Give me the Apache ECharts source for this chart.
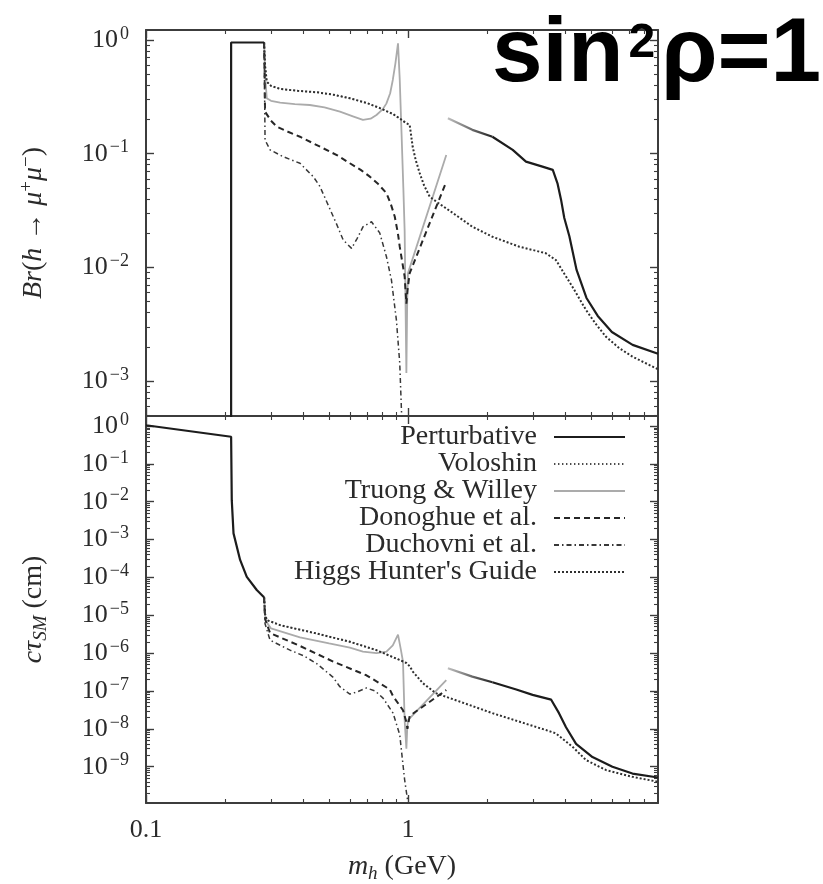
<!DOCTYPE html>
<html>
<head>
<meta charset="utf-8">
<script src="https://cdn.jsdelivr.net/npm/echarts@6/dist/echarts.min.js"></script>
<style>
  html, body { margin: 0; padding: 0; background: #fff; }
  #chart { width: 823px; height: 884px; }
</style>
</head>
<body>
<div id="chart"></div>
<script>
// ---- tick values ----------------------------------------------------------
const massTicks = [0.1, 1];
const brTicks = [1e-3, 1e-2, 1e-1, 1];
const ctauTicks = [1e-9, 1e-8, 1e-7, 1e-6, 1e-5, 1e-4, 1e-3, 1e-2, 1e-1, 1];

// ---- branching ratio Br(h -> mu+ mu-), [m_h (GeV), Br] -------------------
const pertBrLow = [[0.2113, 1e-4], [0.2113, 0.95], [0.2824, 0.95]];
const pertBrFade = [[1.42, 0.205], [1.76, 0.162], [2.1, 0.141]];
const pertBrHigh = [[2.1, 0.141], [2.51, 0.108], [2.82, 0.0851], [3.26, 0.0769], [3.57, 0.0721],
  [3.72, 0.0549], [3.84, 0.0392], [3.95, 0.0272], [4.13, 0.0188], [4.4, 0.0095], [4.8, 0.00538],
  [5.3, 0.00374], [6.0, 0.0027], [7.2, 0.00208], [9.0, 0.00174]];
const voloshinBr = [[0.2824, 0.95], [0.2847, 0.6], [0.289, 0.43], [0.30, 0.395], [0.325, 0.371],
  [0.38, 0.357], [0.448, 0.347], [0.52, 0.33], [0.60, 0.307], [0.70, 0.278], [0.78, 0.252],
  [0.88, 0.222], [0.95, 0.197], [0.986, 0.185]];
const truongBr = [[0.2824, 0.95], [0.2847, 0.5], [0.289, 0.307], [0.30, 0.292], [0.325, 0.281],
  [0.37, 0.273], [0.422, 0.268], [0.48, 0.255], [0.55, 0.234], [0.62, 0.212], [0.673, 0.198],
  [0.72, 0.203], [0.758, 0.219], [0.80, 0.245], [0.8275, 0.277], [0.855, 0.34], [0.875, 0.445],
  [0.895, 0.62], [0.916, 0.935], [0.93, 0.45], [0.945, 0.15], [0.96, 0.05], [0.971, 0.021],
  [0.986, 0.00118], [0.993, 0.005], [1.0, 0.0089], [1.40, 0.0975]];
const donoghueBr = [[0.2824, 0.95], [0.2847, 0.234], [0.30, 0.195], [0.3155, 0.173], [0.35, 0.155],
  [0.387, 0.141], [0.43, 0.125], [0.475, 0.1115], [0.54, 0.096], [0.60, 0.0824], [0.66, 0.072],
  [0.715, 0.0628], [0.77, 0.054], [0.8275, 0.0449], [0.86, 0.036], [0.89, 0.028], [0.915, 0.02],
  [0.93, 0.0152], [0.955, 0.0105], [0.971, 0.0083], [0.986, 0.0048], [0.995, 0.0062],
  [1.015, 0.0089], [1.40, 0.0567]];
const duchovniBr = [[0.2824, 0.95], [0.2847, 0.132], [0.2975, 0.108], [0.334, 0.0941], [0.387, 0.0824],
  [0.435, 0.0628], [0.46, 0.052], [0.489, 0.038], [0.534, 0.024], [0.566, 0.0174], [0.609, 0.0147],
  [0.64, 0.018], [0.674, 0.0228], [0.7255, 0.0252], [0.78, 0.0201], [0.8275, 0.0124],
  [0.8645, 0.00775], [0.903, 0.00345], [0.93, 0.00144], [0.944, 5.6e-4], [0.96, 2e-4]];
const hhgBr = [[0.2824, 0.95], [0.2847, 0.6], [0.289, 0.43], [0.30, 0.395], [0.325, 0.371],
  [0.38, 0.357], [0.448, 0.347], [0.52, 0.33], [0.60, 0.307], [0.70, 0.278], [0.78, 0.252],
  [0.88, 0.222], [0.95, 0.197], [0.986, 0.185], [1.015, 0.179], [1.03, 0.14], [1.042, 0.115],
  [1.07, 0.088], [1.108, 0.0676], [1.15, 0.053], [1.21, 0.0419], [1.3, 0.037], [1.4, 0.033],
  [1.55, 0.028], [1.76, 0.0228], [2.1, 0.0186], [2.66, 0.0152], [3.0, 0.0142], [3.36, 0.0133],
  [3.67, 0.0116], [3.95, 0.0088], [4.24, 0.00677], [4.78, 0.00422], [5.2, 0.0032], [5.69, 0.00246],
  [6.4, 0.00195], [7.19, 0.00164], [9.0, 0.00127]];

// ---- decay length c*tau_SM (cm), [m_h (GeV), c*tau] ------------------------
const pertCtLow = [[0.1, 1.05], [0.2113, 0.52], [0.2125, 0.011], [0.2158, 1.46e-3], [0.2287, 2.9e-4],
  [0.2425, 1.04e-4], [0.2647, 4.65e-5], [0.2808, 3.1e-5], [0.2824, 3.0e-5]];
const pertCtFade = [[1.42, 4.0e-7], [1.76, 2.4e-7], [2.1, 1.7e-7]];
const pertCtHigh = [[2.1, 1.7e-7], [2.59, 1.1e-7], [2.99, 7.9e-8], [3.52, 5.9e-8], [3.77, 2.6e-8],
  [4.01, 1.1e-8], [4.38, 4.0e-9], [5.06, 1.8e-9], [6.03, 1.0e-9], [7.19, 6.6e-10], [9.0, 5.2e-10]];
const voloshinCt = [[0.2824, 3.0e-5], [0.2847, 1.1e-5], [0.289, 7.5e-6], [0.325, 5.5e-6],
  [0.448, 3.3e-6], [0.60, 2.0e-6], [0.758, 1.2e-6], [0.96, 6.0e-7], [0.986, 5.5e-7]];
const truongCt = [[0.2824, 3.0e-5], [0.2847, 1.0e-5], [0.289, 6.5e-6], [0.30, 4.5e-6], [0.387, 2.6e-6],
  [0.50, 1.8e-6], [0.60, 1.4e-6], [0.673, 1.1e-6], [0.758, 1.0e-6], [0.8275, 1.1e-6], [0.875, 1.6e-6],
  [0.916, 3.1e-6], [0.94, 1.2e-6], [0.957, 6e-7], [0.971, 1.7e-8], [0.986, 3e-9], [0.993, 1.0e-8],
  [1.0, 1.7e-8], [1.40, 1.95e-7]];
const donoghueCt = [[0.2824, 3.0e-5], [0.2847, 8e-6], [0.2975, 3.4e-6], [0.387, 1.55e-6],
  [0.518, 6e-7], [0.694, 2.6e-7], [0.852, 1.1e-7], [0.877, 7.3e-8], [0.957, 3.1e-8],
  [0.986, 1.5e-8], [0.995, 1.0e-8], [1.015, 2.2e-8], [1.40, 1.06e-7]];
const duchovniCt = [[0.2824, 3.0e-5], [0.2847, 6e-6], [0.2975, 2.2e-6], [0.3546, 1.2e-6], [0.40, 8.5e-7],
  [0.448, 5.3e-7], [0.518, 2.3e-7], [0.5495, 1.3e-7], [0.60, 8.3e-8], [0.64, 9.5e-8], [0.694, 1.2e-7],
  [0.75, 1.0e-7], [0.803, 6.5e-8], [0.877, 2.6e-8], [0.93, 7e-9], [0.971, 4.5e-10], [1.0, 1.1e-10],
  [1.01, 5e-11]];
const hhgCt = [[0.2824, 3.0e-5], [0.2847, 1.1e-5], [0.289, 7.5e-6], [0.325, 5.5e-6], [0.448, 3.3e-6],
  [0.60, 2.0e-6], [0.758, 1.2e-6], [0.96, 6.0e-7], [0.986, 5.5e-7], [1.015, 4.5e-7], [1.045, 3.2e-7],
  [1.14, 1.6e-7], [1.28, 8.7e-8], [1.4, 7.0e-8], [2.1, 2.6e-8], [3.36, 9.3e-9], [3.67, 7.6e-9],
  [4.24, 3.4e-9], [4.78, 1.5e-9], [5.69, 8.2e-10], [7.19, 5.4e-10], [9.0, 4.0e-10]];

const legendNames = ['Perturbative', 'Voloshin', 'Truong & Willey', 'Donoghue et al.',
  'Duchovni et al.', "Higgs Hunter's Guide"];

// ---- styling ---------------------------------------------------------------
const SERIF = '"Liberation Serif", "Times New Roman", serif';
const SANS = '"Liberation Sans", Arial, sans-serif';
const FRAME = '#3c3c3c';
const TEXT = '#2a2a2a';

const styles = {
  'Perturbative': { color: '#1c1c1c', width: 2.2, type: 'solid' },
  'Voloshin': { color: '#4a4a4a', width: 1.4, type: [1.4, 2.6] },
  'Truong & Willey': { color: '#ababab', width: 1.8, type: 'solid' },
  'Donoghue et al.': { color: '#262626', width: 2, type: [6, 4] },
  'Duchovni et al.': { color: '#383838', width: 1.5, type: [5, 3, 1.5, 3] },
  "Higgs Hunter's Guide": { color: '#303030', width: 2, type: [2, 2] }
};

function minorValues(lo, hi) {
  const out = [];
  for (let e = Math.floor(Math.log10(lo)); e <= Math.ceil(Math.log10(hi)); e++) {
    for (let k = 2; k <= 9; k++) {
      const v = k * Math.pow(10, e);
      if (v > lo && v < hi) out.push(v);
    }
  }
  return out;
}

function expLabel(v) {
  const e = Math.round(Math.log10(v));
  return '{b|10}{s|' + (e < 0 ? '\u2212' + (-e) : e) + '}';
}

const labelRich = {
  b: { fontFamily: SERIF, fontSize: 26, lineHeight: 30, color: TEXT },
  s: { fontFamily: SERIF, fontSize: 18, lineHeight: 18, color: TEXT, verticalAlign: 'top', padding: [0, 0, 0, 2] }
};

// one frame side = a major-tick axis (with line) plus a minor-tick axis
function sideAxes(gridIndex, position, min, max, majors, extra) {
  const base = {
    type: 'log', logBase: 10, gridIndex: gridIndex, position: position, min: min, max: max,
    splitLine: { show: false }, minorTick: { show: false }, minorSplitLine: { show: false },
    axisPointer: { show: false }, silent: true
  };
  const major = Object.assign({}, base, {
    axisLine: { show: true, onZero: false, lineStyle: { color: FRAME, width: 2 } },
    axisTick: { show: true, inside: true, length: 8, customValues: majors,
      lineStyle: { color: FRAME, width: 1.4 } },
    axisLabel: { show: false }
  }, extra || {});
  const minor = Object.assign({}, base, {
    axisLine: { show: false },
    axisTick: { show: true, inside: true, length: 4, customValues: minorValues(min, max),
      lineStyle: { color: FRAME, width: 1.1 } },
    axisLabel: { show: false }
  });
  return [major, minor];
}

const X_MIN = 0.1, X_MAX = 9;
const BR_MIN = 4.93e-4, BR_MAX = 1.224;
const CT_MIN = 1.1e-10, CT_MAX = 1.84;

const nameRich = {
  i: { fontFamily: SERIF, fontSize: 28, fontStyle: 'italic', color: TEXT, lineHeight: 32 },
  r: { fontFamily: SERIF, fontSize: 28, color: TEXT, lineHeight: 32 },
  s: { fontFamily: SERIF, fontSize: 19, color: TEXT, verticalAlign: 'top', lineHeight: 20 },
  sub: { fontFamily: SERIF, fontSize: 19, fontStyle: 'italic', color: TEXT, verticalAlign: 'bottom', lineHeight: 22 }
};

const xAxes = [].concat(
  sideAxes(0, 'bottom', X_MIN, X_MAX, massTicks),
  sideAxes(0, 'top', X_MIN, X_MAX, massTicks),
  sideAxes(1, 'bottom', X_MIN, X_MAX, massTicks, {
    axisLabel: { show: true, customValues: massTicks, margin: 14, fontFamily: SERIF, fontSize: 26,
      color: TEXT, formatter: function (v) { return String(v); } },
    name: '{i|m}{sub|h}{r| (GeV)}', nameLocation: 'middle', nameGap: 48,
    nameTextStyle: { fontFamily: SERIF, fontSize: 28, color: TEXT, rich: nameRich }
  }),
  sideAxes(1, 'top', X_MIN, X_MAX, massTicks)
);

const yAxes = [].concat(
  sideAxes(0, 'left', BR_MIN, BR_MAX, brTicks, {
    axisLabel: { show: true, customValues: brTicks, margin: 17, formatter: expLabel, rich: labelRich },
    name: '{i|Br}{r|(}{i|h}{r| \u2192 }{i|\u03bc}{s|+}{i|\u03bc}{s|\u2212}{r|)}', nameLocation: 'middle', nameGap: 96,
    nameTextStyle: { fontFamily: SERIF, fontSize: 28, color: TEXT, rich: nameRich }
  }),
  sideAxes(0, 'right', BR_MIN, BR_MAX, brTicks),
  sideAxes(1, 'left', CT_MIN, CT_MAX, ctauTicks, {
    axisLabel: { show: true, customValues: ctauTicks, margin: 17, formatter: expLabel, rich: labelRich },
    name: '{i|c\u03c4}{sub|SM}{r| (cm)}', nameLocation: 'middle', nameGap: 96,
    nameTextStyle: { fontFamily: SERIF, fontSize: 28, color: TEXT, rich: nameRich }
  }),
  sideAxes(1, 'right', CT_MIN, CT_MAX, ctauTicks)
);

function curve(name, data, panel, extraStyle) {
  const st = styles[name] || {};
  return {
    name: name, type: 'line', data: data,
    xAxisIndex: panel === 0 ? 0 : 4, yAxisIndex: panel === 0 ? 0 : 4,
    showSymbol: false, symbol: 'none', clip: true, silent: true, animation: false,
    lineStyle: Object.assign({ color: st.color, width: st.width, type: st.type }, extraStyle || {}),
    itemStyle: { color: st.color }
  };
}

function fadeIn() {
  return new echarts.graphic.LinearGradient(0, 0, 1, 0, [
    { offset: 0, color: '#c6c6c6' }, { offset: 1, color: '#1c1c1c' }
  ]);
}

const series = [
  curve('Truong & Willey', truongBr, 0),
  curve('Voloshin', voloshinBr, 0),
  curve("Higgs Hunter's Guide", hhgBr, 0),
  curve('Donoghue et al.', donoghueBr, 0),
  curve('Duchovni et al.', duchovniBr, 0),
  curve('Perturbative', pertBrLow, 0),
  curve('Perturbative', pertBrHigh, 0),
  curve('pert-fade-br', pertBrFade, 0, { color: fadeIn(), width: 2.2, type: 'solid' }),
  curve('Truong & Willey', truongCt, 1),
  curve('Voloshin', voloshinCt, 1),
  curve("Higgs Hunter's Guide", hhgCt, 1),
  curve('Donoghue et al.', donoghueCt, 1),
  curve('Duchovni et al.', duchovniCt, 1),
  curve('Perturbative', pertCtLow, 1),
  curve('Perturbative', pertCtHigh, 1),
  curve('pert-fade-ct', pertCtFade, 1, { color: fadeIn(), width: 2.2, type: 'solid' })
];

const chart = echarts.init(document.getElementById('chart'), null, { renderer: 'canvas' });
chart.setOption({
  animation: false,
  backgroundColor: '#fff',
  textStyle: { fontFamily: SERIF },
  grid: [
    { left: 146, top: 30, width: 512, height: 386, containLabel: false },
    { left: 146, top: 416, width: 512, height: 387, containLabel: false }
  ],
  title: {
    text: '{a|sin}{b|2}{a|\u03c1=1}', left: 492, top: 12, padding: 0, z: 20,
    textStyle: {
      rich: {
        a: { fontFamily: SANS, fontWeight: 'bold', fontSize: 91, lineHeight: 88, color: '#000' },
        b: { fontFamily: SANS, fontWeight: 'bold', fontSize: 48, lineHeight: 80, color: '#000',
             verticalAlign: 'top', padding: [8, 6, 0, 5] }
      }
    }
  },
  legend: {
    data: legendNames, orient: 'vertical', align: 'right', right: 197, top: 423, padding: 0,
    itemWidth: 71, itemHeight: 14, itemGap: -1, selectedMode: false,
    itemStyle: { opacity: 0, borderWidth: 0 },
    textStyle: { fontFamily: SERIF, fontSize: 28, color: TEXT, lineHeight: 27, padding: [0, 12, 0, 0] }
  },
  xAxis: xAxes,
  yAxis: yAxes,
  series: series
});
</script>
</body>
</html>
